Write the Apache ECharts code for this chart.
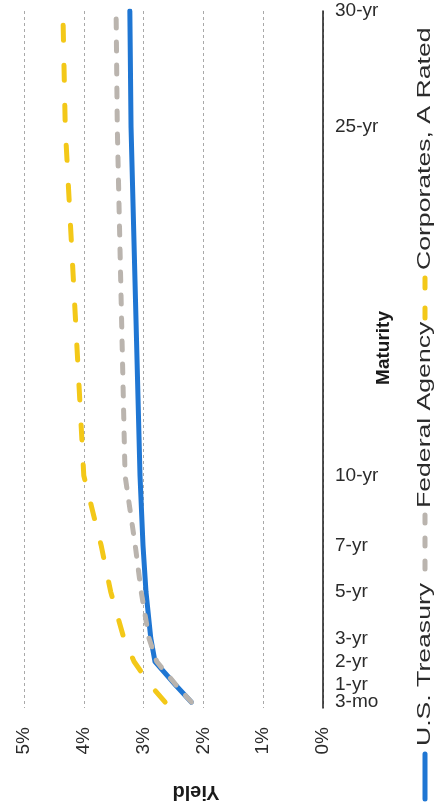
<!DOCTYPE html>
<html>
<head>
<meta charset="utf-8">
<script src="https://cdn.jsdelivr.net/npm/echarts@6/dist/echarts.min.js"></script>
<style>
  html, body { margin: 0; padding: 0; background: #ffffff; }
  #chart { width: 435px; height: 806px; }
</style>
</head>
<body>
<div id="chart"></div>
<script>
// Yield curve by maturity (years) for three bond sectors
const maturities = [0.25, 1, 2, 3, 5, 7, 10, 25, 30];
const maturityLabels = ['3-mo', '1-yr', '2-yr', '3-yr', '5-yr', '7-yr', '10-yr', '25-yr', '30-yr'];
const treasury = [2.20, 2.47, 2.81, 2.88, 2.96, 3.01, 3.06, 3.21, 3.23];
const agency = [2.20, 2.46, 2.78, 2.91, 3.04, 3.14, 3.31, 3.44, 3.46];
const corporates = [2.64, 2.89, 3.16, 3.33, 3.55, 3.71, 4.00, 4.31, 4.35];
const seriesNames = ['U.S. Treasury', 'Federal Agency', 'Corporates, A Rated'];
const yieldTicks = [0, 1, 2, 3, 4, 5];

const FONT = '"Liberation Sans", Arial, Helvetica, sans-serif';
const BLUE = '#1f76d3';
const GRAY = '#bab4ae';
const GOLD = '#f3c818';

function pairs(values) {
  return values.map((v, i) => [v, maturities[i]]);
}

function maturityName(v) {
  const i = maturities.indexOf(v);
  return i >= 0 ? maturityLabels[i] : '';
}

// Maturity axis labels; the shortest maturity sits on its own axis so the
// tightly packed labels at the short end are all kept.
function maturityAxis(values, showLine) {
  return {
    type: 'value',
    position: 'right',
    min: 0,
    max: 30,
    axisLine: { show: showLine, onZero: false, lineStyle: { color: '#1a1a1a', width: 1.5 } },
    axisTick: { show: false },
    splitLine: { show: false },
    axisLabel: {
      customValues: values,
      hideOverlap: false,
      margin: 12,
      fontFamily: FONT,
      fontSize: 19,
      color: '#2b2b2b',
      formatter: maturityName
    }
  };
}

// Legend entries run bottom-to-top along the right edge; text is drawn
// rotated and slightly widened along its reading direction.
function legendText(text, yStart) {
  return {
    type: 'text', x: 425, y: yStart, rotation: Math.PI / 2, scaleX: 1.4,
    style: {
      text: text, font: '19px ' + FONT, fill: '#2b2b2b',
      align: 'left', verticalAlign: 'middle', textAlign: 'left', textVerticalAlign: 'middle'
    }
  };
}
function legendLine(color, yFrom, yTo, dash) {
  const style = { stroke: color, lineWidth: 5, lineCap: 'round' };
  if (dash) style.lineDash = dash;
  return { type: 'line', shape: { x1: 425, y1: yFrom, x2: 425, y2: yTo }, style: style };
}

const chart = echarts.init(document.getElementById('chart'), null, { renderer: 'canvas' });

chart.setOption({
  animation: false,
  backgroundColor: '#ffffff',
  grid: { left: 24, right: 112, top: 11, bottom: 98, containLabel: false },
  xAxis: {
    type: 'value',
    inverse: true,
    min: yieldTicks[0],
    max: yieldTicks[yieldTicks.length - 1],
    interval: 1,
    axisLine: { show: false },
    axisTick: { show: false },
    axisLabel: {
      rotate: 90,
      margin: 19,
      fontFamily: FONT,
      fontSize: 19,
      color: '#2b2b2b',
      formatter: v => v + '%'
    },
    splitLine: {
      show: true,
      lineStyle: { color: '#a9a9a9', width: 1, type: [3, 3] }
    }
  },
  yAxis: [
    maturityAxis(maturities.slice(1), true),
    maturityAxis(maturities.slice(0, 1), false)
  ],
  series: [
    {
      name: seriesNames[0],
      type: 'line',
      data: pairs(treasury),
      showSymbol: false,
      lineStyle: { color: BLUE, width: 5, cap: 'round', join: 'round' },
      itemStyle: { color: BLUE },
      z: 3
    },
    {
      name: seriesNames[1],
      type: 'line',
      data: pairs(agency),
      showSymbol: false,
      lineStyle: { color: GRAY, width: 5, type: [9, 14], cap: 'round', join: 'round' },
      itemStyle: { color: GRAY },
      z: 4
    },
    {
      name: seriesNames[2],
      type: 'line',
      data: pairs(corporates),
      showSymbol: false,
      lineStyle: { color: GOLD, width: 5, type: [15, 25], cap: 'round', join: 'round' },
      itemStyle: { color: GOLD },
      z: 5
    }
  ],
  graphic: [
    // axis titles
    {
      type: 'text', x: 196, y: 792, rotation: Math.PI,
      style: {
        text: 'Yield', font: 'bold 20px ' + FONT, fill: '#1a1a1a',
        align: 'center', verticalAlign: 'middle', textAlign: 'center', textVerticalAlign: 'middle'
      }
    },
    {
      type: 'text', x: 384, y: 348, rotation: Math.PI / 2,
      style: {
        text: 'Maturity', font: 'bold 19px ' + FONT, fill: '#1a1a1a',
        align: 'center', verticalAlign: 'middle', textAlign: 'center', textVerticalAlign: 'middle'
      }
    },
    // legend
    legendLine(BLUE, 799, 754),
    legendText(seriesNames[0], 746),
    legendLine(GRAY, 569, 515, [8, 15]),
    legendText(seriesNames[1], 508),
    legendLine(GOLD, 318, 278, [10, 20]),
    legendText(seriesNames[2], 270)
  ]
});
</script>
</body>
</html>
